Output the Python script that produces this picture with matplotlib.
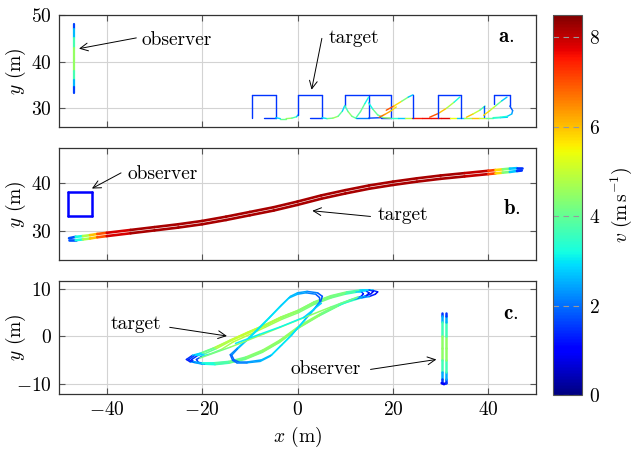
import numpy as np
import matplotlib
matplotlib.use('Agg')
from matplotlib import pyplot as plt
from matplotlib.collections import LineCollection
from matplotlib.colors import Normalize
from matplotlib.cm import ScalarMappable

plt.rcParams['font.family'] = 'serif'
plt.rcParams['font.serif'] = ['cmr10', 'DejaVu Serif']
plt.rcParams['mathtext.fontset'] = 'cm'
plt.rcParams['axes.formatter.use_mathtext'] = True
plt.rcParams['axes.unicode_minus'] = True
plt.rcParams['font.size'] = 14

v_min, v_max = 0, 8.5

# ---- panel a ----
obs_a_x = [-46.8, -46.8, -46.8, -46.8, -46.8, -46.8, -46.8, -46.8, -46.8]
obs_a_y = [48.0, 47.0, 45.0, 43.0, 40.5, 38.0, 36.0, 34.5, 33.2]
obs_a_v = [1.2, 2.0, 3.2, 4.2, 4.8, 4.2, 3.2, 2.0, 1.2]

# target in a: list of pieces (x, y, v)
tgt_a_x = [
    [-7.1, -4.6, -4.6, -9.6, -9.6],
    [-4.6, -3.6, -2.4, -1.2, -0.2, 0.1],
    [2.7, 5.1, 5.1, 0.1, 0.1],
    [5.1, 6.2, 7.4, 8.5, 9.4, 9.9],
    [9.9, 9.9, 19.6, 19.6],
    [14.9, 14.9],
    [9.9, 10.6, 11.4, 12.2],
    [12.2, 14.9, 17.5, 19.6],
    [12.2, 13.2, 14.1, 14.9],
    [14.9, 15.8, 16.8, 17.9],
    [17.1, 18.3, 19.5, 20.7],
    [17.9, 19.5, 21.0, 22.5, 24.0, 26.0, 28.0, 30.0, 32.0, 33.5, 35.0, 36.5, 38.0, 39.5, 41.0, 42.5, 44.0],
    [18.6, 20.2, 21.8, 23.2, 24.2, 24.2, 24.2],
    [27.7, 29.5, 31.2, 32.8, 34.0],
    [29.5, 29.5, 34.2, 34.2],
    [35.4, 36.8, 38.2, 39.3],
    [39.0, 39.0],
    [39.0, 40.3, 41.6, 42.8, 43.9],
    [41.1, 41.1, 44.5, 44.5, 45.1, 44.9, 44.0, 42.5, 41.0],
]
tgt_a_y = [
    [28.0, 28.0, 32.9, 32.9, 28.0],
    [28.0, 27.8, 27.8, 27.9, 28.2, 28.6],
    [28.0, 28.0, 32.9, 32.9, 28.6],
    [28.0, 27.8, 27.9, 28.3, 29.4, 30.6],
    [30.6, 32.9, 32.9, 28.0],
    [32.9, 28.0],
    [30.6, 29.3, 28.3, 27.9],
    [27.9, 27.9, 28.0, 28.0],
    [27.9, 29.3, 31.0, 32.4],
    [31.2, 29.8, 28.6, 28.1],
    [28.1, 28.7, 29.4, 30.3],
    [28.0, 27.9, 27.9, 27.9, 27.9, 27.9, 27.9, 27.9, 27.9, 27.9, 27.9, 27.9, 27.9, 27.9, 27.9, 28.0, 28.1],
    [29.6, 30.5, 31.5, 32.4, 32.9, 32.9, 28.0],
    [28.1, 28.9, 30.0, 31.3, 32.4],
    [28.0, 32.9, 32.9, 28.0],
    [28.1, 28.8, 29.6, 30.5],
    [30.5, 28.1],
    [28.5, 29.5, 30.6, 31.6, 32.4],
    [31.0, 32.9, 32.9, 30.5, 29.5, 28.8, 28.3, 28.1, 28.0],
]
tgt_a_v = [
    [1.5, 1.5, 1.5, 1.5, 1.5],
    [2.2, 3.5, 4.6, 4.4, 3.2, 2.2],
    [1.5, 1.5, 1.5, 1.5, 1.5],
    [2.2, 3.6, 4.6, 4.4, 3.4, 2.2],
    [1.5, 1.5, 1.5, 1.5],
    [1.5, 1.5],
    [3.0, 4.3, 4.5, 3.5],
    [2.5, 1.8, 1.5, 1.5],
    [3.5, 4.2, 3.8, 2.5],
    [2.5, 3.8, 4.3, 3.5],
    [7.0, 6.5, 6.0, 5.5],
    [5.0, 4.0, 3.0, 2.5, 7.2, 7.8, 7.5, 7.8, 7.8, 3.0, 2.5, 6.5, 5.5, 4.5, 3.5, 3.0, 2.5],
    [7.5, 6.5, 5.0, 3.5, 2.0, 1.5, 1.5],
    [7.5, 6.5, 5.5, 4.0, 2.5],
    [1.5, 1.5, 1.5, 1.5],
    [6.5, 5.5, 4.5, 3.0],
    [1.8, 1.8],
    [6.0, 5.5, 4.5, 3.5, 2.0],
    [1.5, 1.5, 1.5, 1.5, 2.0, 2.5, 3.0, 3.5, 3.5],
]

# ---- panel b ----
obs_b_x = [-48.1, -43.0, -43.0, -48.1, -48.1]
obs_b_y = [33.0, 33.0, 38.1, 38.1, 33.0]
obs_b_v = [1.0, 1.0, 1.0, 1.0, 1.0]

tgt_b_x = [-47.9, -46.5, -45, -43.5, -42, -40, -35, -30, -25, -20, -15, -10, -5, 0,
           5, 10, 15, 20, 25, 30, 35, 40, 41.5, 43, 44.5, 46, 47]
tgt_b_y1 = [28.4, 28.7, 28.85, 29.05, 29.3, 29.55, 30.15, 30.75, 31.35, 32.05, 32.95, 33.95, 34.95, 36.15,
            37.45, 38.55, 39.55, 40.35, 41.05, 41.65, 42.15, 42.65, 42.8, 42.95, 43.1, 43.2, 43.2]
tgt_b_y2 = [28.0, 28.0, 28.15, 28.35, 28.6, 28.85, 29.45, 30.05, 30.65, 31.35, 32.25, 33.25, 34.25, 35.45,
            36.75, 37.85, 38.85, 39.65, 40.35, 40.95, 41.45, 41.95, 42.1, 42.25, 42.4, 42.6, 42.7]
tgt_b_v = [1.0, 2.5, 4.0, 5.5, 6.5, 7.5, 8.2, 8.2, 8.2, 8.2, 8.2, 8.2, 8.2, 8.2,
           8.2, 8.2, 8.2, 8.2, 8.2, 8.2, 8.2, 7.8, 6.5, 5.0, 3.5, 2.0, 1.0]

# ---- panel c ----
obs_c_x = [30.2, 30.2, 30.2, 30.2, 30.2, 30.2, 30.2, 30.2, 30.2, 30.7,
           31.2, 31.2, 31.2, 31.2, 31.2, 31.2, 31.2, 31.2, 31.2]
obs_c_y = [5.0, 4.3, 3.0, 0.0, -2.5, -5.0, -7.5, -9.0, -9.9, -10.1,
           -9.9, -9.0, -7.5, -5.0, -2.5, 0.0, 3.0, 4.3, 5.0]
obs_c_v = [1.0, 2.0, 3.0, 4.3, 4.6, 4.3, 3.0, 2.0, 1.0, 0.8,
           1.0, 2.0, 3.0, 4.3, 4.6, 4.3, 3.0, 2.0, 1.0]

tgt_c_x = [
    [-23.3, -22.0, -20.5, -17.7, -14.1, -10.6, -7.1, -3.6, 0.0, 3.4, 7.0, 10.5, 13.5, 15.8, 16.8,
     16.3, 15.0, 13.3, 9.1, 4.85, 0.6, -3.6, -7.1, -10.6, -14.1, -17.7, -20.5, -22.5, -23.3],
    [-22.2, -21.0, -19.5, -17.0, -14.0, -10.5, -7.0, -3.5, 0.0, 3.5, 7.0, 10.2, 12.8, 14.5, 15.0,
     14.6, 13.5, 12.0, 8.8, 4.7, 0.5, -3.6, -7.2, -10.8, -14.3, -17.5, -20.0, -21.7, -22.2],
    [-21.2, -20.0, -18.5, -16.0, -13.5, -10.0, -6.8, -3.3, 0.2, 3.6, 7.0, 10.0, 12.3, 13.5, 13.8,
     13.4, 12.4, 11.0, 8.5, 4.5, 0.3, -3.8, -7.4, -11.0, -14.5, -17.3, -19.5, -20.8, -21.2],
    [-22.8, -21.5, -20.0, -17.3, -13.8, -10.3, -6.9, -3.4, 0.1, 3.5, 7.0, 10.3, 13.1, 15.0, 15.9,
     15.4, 14.2, 12.6, 8.9, 4.8, 0.5, -3.7, -7.3, -10.9, -14.4, -17.6, -20.2, -22.1, -22.8],
    [5.2, 4.2, 2.0, 0.0, -1.5, -3.5, -5.7, -8.2, -10.6, -12.6, -14.1, -13.6, -12.7, -10.6,
     -7.8, -5.7, -3.6, -1.5, 1.3, 3.4, 4.85, 5.2],
    [4.6, 3.8, 1.8, 0.0, -1.8, -3.8, -6.0, -8.4, -10.8, -12.6, -13.8, -13.3, -12.3, -10.4,
     -7.6, -5.4, -3.3, -1.2, 1.5, 3.5, 4.7, 4.6],
    [-20.5, -14.1, -7.1, 0.0, 7.0, 12.6],
    [-13.0, -8.0, -3.6, 1.3, 5.0],
]
tgt_c_y = [
    [-4.9, -4.0, -3.6, -2.5, -0.8, 0.8, 2.3, 4.0, 5.4, 7.2, 8.5, 9.3, 9.7, 9.7, 9.4,
     8.9, 8.4, 8.1, 6.8, 4.7, 2.2, -0.9, -3.0, -4.5, -5.4, -5.7, -5.7, -5.4, -4.9],
    [-4.9, -4.1, -3.7, -2.6, -1.0, 0.6, 2.1, 3.8, 5.2, 7.0, 8.3, 9.1, 9.5, 9.5, 9.2,
     8.7, 8.2, 7.9, 6.6, 4.5, 2.0, -1.1, -3.2, -4.7, -5.6, -5.9, -5.9, -5.5, -4.9],
    [-4.9, -4.2, -3.8, -2.8, -1.2, 0.4, 1.9, 3.6, 5.0, 6.8, 8.1, 8.9, 9.3, 9.3, 9.0,
     8.5, 8.0, 7.7, 6.4, 4.3, 1.8, -1.3, -3.4, -4.9, -5.7, -6.0, -5.9, -5.5, -4.9],
    [-4.9, -4.0, -3.5, -2.4, -0.7, 0.9, 2.4, 4.1, 5.5, 7.3, 8.6, 9.4, 9.8, 9.8, 9.5,
     9.0, 8.5, 8.2, 6.9, 4.8, 2.3, -0.8, -2.9, -4.4, -5.3, -5.6, -5.6, -5.3, -4.9],
    [8.45, 9.2, 9.5, 9.2, 8.45, 6.5, 4.2, 1.7, -0.7, -2.5, -3.9, -5.1, -5.6, -5.6,
     -5.3, -4.2, -2.1, 0.0, 3.2, 5.6, 7.4, 8.45],
    [8.2, 8.9, 9.2, 8.9, 8.1, 6.1, 3.8, 1.3, -1.0, -2.7, -4.0, -5.0, -5.4, -5.4,
     -5.0, -3.9, -1.8, 0.3, 3.5, 5.8, 7.4, 8.2],
    [-4.6, -2.3, 0.5, 3.4, 6.2, 8.3],
    [-1.5, 0.4, 2.0, 4.0, 7.0],
]
tgt_c_v = [
    [0.8, 2.2, 3.5, 4.6, 5.0, 5.0, 4.9, 4.6, 4.4, 4.3, 4.3, 4.1, 3.5, 2.2, 0.9,
     0.8, 1.8, 3.0, 4.0, 4.4, 4.5, 4.5, 4.4, 4.3, 4.0, 3.6, 3.0, 1.8, 0.8],
    [0.8, 2.2, 3.5, 4.6, 5.0, 5.0, 4.9, 4.6, 4.4, 4.3, 4.3, 4.1, 3.5, 2.2, 0.9,
     0.8, 1.8, 3.0, 4.0, 4.4, 4.5, 4.5, 4.4, 4.3, 4.0, 3.6, 3.0, 1.8, 0.8],
    [1.0, 2.4, 3.6, 4.5, 4.9, 4.9, 4.8, 4.5, 4.3, 4.2, 4.2, 4.0, 3.4, 2.2, 1.0,
     1.0, 1.9, 3.0, 3.9, 4.3, 4.4, 4.4, 4.3, 4.2, 3.9, 3.5, 3.0, 2.0, 1.0],
    [0.9, 2.3, 3.6, 4.6, 5.0, 5.0, 4.9, 4.6, 4.4, 4.3, 4.3, 4.1, 3.5, 2.2, 0.9,
     0.9, 1.8, 3.0, 4.0, 4.4, 4.5, 4.5, 4.4, 4.3, 4.0, 3.6, 3.0, 1.8, 0.9],
    [1.5, 2.0, 2.3, 2.5, 2.7, 2.9, 3.0, 3.0, 2.9, 2.5, 2.0, 1.8, 2.0, 2.3,
     2.5, 2.8, 3.0, 3.0, 2.9, 2.6, 2.0, 1.5],
    [1.5, 2.0, 2.3, 2.5, 2.7, 2.9, 3.0, 3.0, 2.9, 2.5, 2.0, 1.8, 2.0, 2.3,
     2.5, 2.8, 3.0, 3.0, 2.9, 2.6, 2.0, 1.5],
    [4.0, 4.4, 4.5, 4.5, 4.4, 3.8],
    [3.0, 3.1, 3.2, 3.1, 2.6],
]

x_ticks = [-40, -20, 0, 20, 40]
cbar_ticks = [0, 2, 4, 6, 8]

norm = Normalize(vmin=v_min, vmax=v_max)


def draw(ax, xs, ys, vs, lw):
    pts = np.column_stack([xs, ys])
    segs = np.stack([pts[:-1], pts[1:]], axis=1)
    vs = np.asarray(vs, dtype=float)
    lc = LineCollection(segs, cmap='jet', norm=norm, linewidths=lw,
                        capstyle='round', joinstyle='round')
    lc.set_array((vs[:-1] + vs[1:]) / 2)
    ax.add_collection(lc)


fig = plt.figure(figsize=(6.34, 4.49), dpi=100)
ax_a = fig.add_axes([0.0931, 0.7171, 0.7524, 0.2494])
ax_b = fig.add_axes([0.0931, 0.4209, 0.7524, 0.2494])
ax_c = fig.add_axes([0.0931, 0.1225, 0.7524, 0.2517])
cax = fig.add_axes([0.8722, 0.1203, 0.0457, 0.8463])

for ax in (ax_a, ax_b, ax_c):
    ax.set_xlim(-50, 50)
    ax.set_xticks(x_ticks)
    ax.grid(True, color='#d3d3d3', lw=0.8)
    ax.set_axisbelow(True)
    ax.tick_params(direction='in', length=4, width=0.8, color='#555555',
                   top=True, right=True, labelsize=14, pad=5)
    for s in ax.spines.values():
        s.set_color('#333333')
        s.set_linewidth(0.9)
    ax.set_ylabel('$y$ (m)', fontsize=14)
    ax.yaxis.set_label_coords(-0.066, 0.5)

ax_a.set_ylim(26, 50)
ax_a.set_yticks([30, 40, 50])
ax_b.set_ylim(23.8, 47.45)
ax_b.set_yticks([30, 40])
ax_c.set_ylim(-12.2, 11.7)
ax_c.set_yticks([-10, 0, 10])
ax_a.tick_params(labelbottom=False)
ax_b.tick_params(labelbottom=False)
ax_c.set_xlabel('$x$ (m)', fontsize=14, labelpad=4)

# panel a
draw(ax_a, obs_a_x, obs_a_y, obs_a_v, 1.6)
for xs, ys, vs in zip(tgt_a_x, tgt_a_y, tgt_a_v):
    draw(ax_a, xs, ys, vs, 1.0)

# panel b
draw(ax_b, obs_b_x, obs_b_y, obs_b_v, 1.8)
draw(ax_b, tgt_b_x, tgt_b_y1, tgt_b_v, 1.9)
draw(ax_b, tgt_b_x, tgt_b_y2, tgt_b_v, 1.9)

# panel c
draw(ax_c, obs_c_x, obs_c_y, obs_c_v, 1.8)
for xs, ys, vs in zip(tgt_c_x, tgt_c_y, tgt_c_v):
    draw(ax_c, xs, ys, vs, 1.1)

arrow = dict(arrowstyle='->', lw=0.7, color='black', shrinkA=0, shrinkB=0)
fs = 14
ax_a.annotate('', xy=(-45.8, 42.8), xytext=(-33.8, 45.1), arrowprops=arrow)
ax_a.text(-32.8, 44.6, 'observer', ha='left', va='center', fontsize=fs)
ax_a.annotate('', xy=(2.95, 34.0), xytext=(5.1, 45.0), arrowprops=arrow)
ax_a.text(6.6, 45.1, 'target', ha='left', va='center', fontsize=fs)

ax_b.annotate('', xy=(-43.1, 38.9), xytext=(-37.0, 42.2), arrowprops=arrow)
ax_b.text(-35.6, 41.9, 'observer', ha='left', va='center', fontsize=fs)
ax_b.annotate('', xy=(3.1, 34.2), xytext=(15.3, 33.0), arrowprops=arrow)
ax_b.text(16.8, 33.2, 'target', ha='left', va='center', fontsize=fs)

ax_c.annotate('', xy=(-14.8, 0.06), xytext=(-26.8, 1.9), arrowprops=arrow)
ax_c.text(-39.1, 2.5, 'target', ha='left', va='center', fontsize=fs)
ax_c.annotate('', xy=(29.1, -4.9), xytext=(15.3, -7.0), arrowprops=arrow)
ax_c.text(-1.5, -7.0, 'observer', ha='left', va='center', fontsize=fs)

ax_a.text(0.954, 0.80, r'$\mathbf{a.}$', transform=ax_a.transAxes, ha='right', va='center', fontsize=15)
ax_b.text(0.968, 0.46, r'$\mathbf{b.}$', transform=ax_b.transAxes, ha='right', va='center', fontsize=15)
ax_c.text(0.962, 0.71, r'$\mathbf{c.}$', transform=ax_c.transAxes, ha='right', va='center', fontsize=15)

sm = ScalarMappable(norm=norm, cmap='jet')
cb = fig.colorbar(sm, cax=cax)
cb.set_ticks(cbar_ticks)
cb.outline.set_edgecolor('#555555')
cb.outline.set_linewidth(0.8)
cax.tick_params(length=0, labelsize=14, pad=5)
for t in cbar_ticks:
    cax.axhline(t, color='#999999', lw=0.8, ls=(0, (5, 4)))
cax.set_ylabel(r'$v\ (\mathrm{m\,s^{-1}})$', fontsize=14)
cax.yaxis.set_label_coords(1.9, 0.5)

fig.savefig('out.png', dpi=100)
